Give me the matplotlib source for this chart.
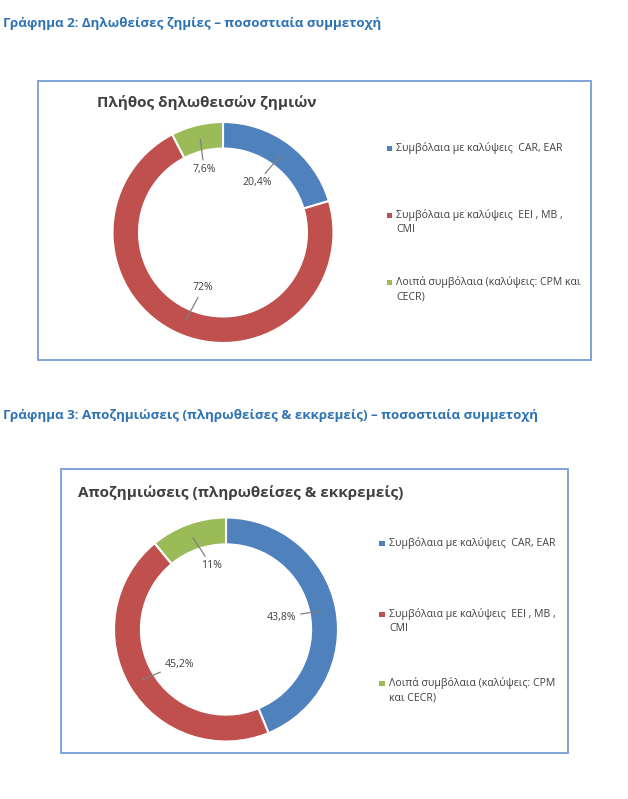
import matplotlib
matplotlib.use('Agg')
import numpy as np
import matplotlib.pyplot as plt
from matplotlib.patches import Rectangle

plt.rcParams['font.family'] = ['Open Sans', 'DejaVu Sans']

# data
header1 = 'Γράφημα 2: Δηλωθείσες ζημίες – ποσοστιαία συμμετοχή'
header2 = 'Γράφημα 3: Αποζημιώσεις (πληρωθείσες & εκκρεμείς) – ποσοστιαία συμμετοχή'
title1 = 'Πλήθος δηλωθεισών ζημιών'
title2 = 'Αποζημιώσεις (πληρωθείσες & εκκρεμείς)'
claims = [20.4, 72, 7.6]
claims_lbl = ['20,4%', '72%', '7,6%']
payments = [43.8, 45.2, 11]
payments_lbl = ['43,8%', '45,2%', '11%']
legend1 = ['Συμβόλαια με καλύψεις  CAR, EAR',
           'Συμβόλαια με καλύψεις  EEI , MB ,\nCMI',
           'Λοιπά συμβόλαια (καλύψεις: CPM και\nCECR)']
legend2 = ['Συμβόλαια με καλύψεις  CAR, EAR',
           'Συμβόλαια με καλύψεις  EEI , MB ,\nCMI',
           'Λοιπά συμβόλαια (καλύψεις: CPM\nκαι CECR)']
colors = ['#4F81BD', '#C0504D', '#9BBB59']

W, H = 628, 799
fig = plt.figure(figsize=(W / 100, H / 100), dpi=100)


def fx(x):
    return x / W


def fy(y):
    return 1 - y / H


def box(x0, y0, x1, y1):
    fig.add_artist(Rectangle((fx(x0), fy(y1)), fx(x1 - x0), (y1 - y0) / H,
                             fill=False, edgecolor='#7EA3D8', linewidth=1.4))


def donut(cx, cy, r, vals, lbls, txtpos, has):
    ax = fig.add_axes([fx(cx - r), fy(cy + r), fx(2 * r), 2 * r / H])
    wedges, _ = ax.pie(vals, colors=colors, startangle=90, counterclock=False,
                       radius=1, wedgeprops=dict(width=0.24, edgecolor='white', linewidth=1.5))
    ax.set_xlim(-1, 1)
    ax.set_ylim(-1, 1)
    ax.axis('off')
    for w, lab, pos, ha in zip(wedges, lbls, txtpos, has):
        mid = np.deg2rad((w.theta1 + w.theta2) / 2)
        ax.annotate(lab, xy=(0.87 * np.cos(mid), 0.87 * np.sin(mid)), xytext=pos,
                    ha=ha, va='center', fontsize=7.6, color='#404040',
                    arrowprops=dict(arrowstyle='-', color='#808080', lw=0.9,
                                    shrinkA=1, shrinkB=0))


def legend(x, ys, labels):
    for c, y, lab in zip(colors, ys, labels):
        fig.add_artist(Rectangle((fx(x - 2.5), fy(y + 2.5)), fx(5), 5 / H,
                                 facecolor=c, edgecolor='none'))
        fig.text(fx(x + 7), fy(y - 6), lab, ha='left', va='top', fontsize=7.6,
                 color='#404040', linespacing=1.4)


# chart 2
fig.text(fx(3), fy(23), header1, fontsize=9.6, fontweight='bold', color='#2E74B5', va='center')
box(38, 81, 591, 360)
fig.text(fx(97), fy(103), title1, fontsize=11, fontweight='bold', color='#404040', va='center')
donut(223, 232.5, 110.5, claims, claims_lbl,
      [(0.31, 0.45), (-0.18, -0.50), (-0.17, 0.57)], ['center', 'center', 'center'])
legend(389, [148, 215, 282], legend1)

# chart 3
fig.text(fx(3), fy(416), header2, fontsize=9.6, fontweight='bold', color='#2E74B5', va='center')
box(61, 469, 568, 753)
fig.text(fx(78), fy(493), title2, fontsize=11, fontweight='bold', color='#404040', va='center')
donut(226, 629.5, 112, payments, payments_lbl,
      [(0.63, 0.11), (-0.55, -0.31), (-0.13, 0.57)], ['right', 'left', 'center'])
legend(382, [543, 614, 683], legend2)

plt.savefig('out.png', dpi=100)
